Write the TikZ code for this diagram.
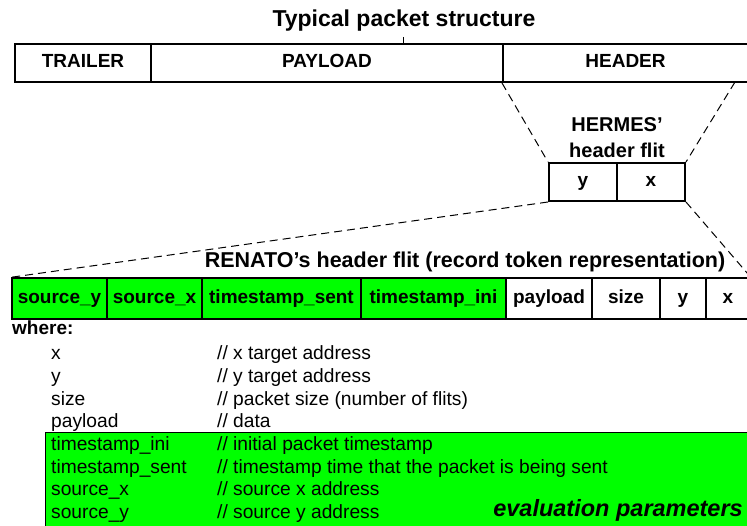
\documentclass[tikz,border=0pt]{standalone}
\usepackage{fontspec}
\setmainfont{Liberation Sans}
\usetikzlibrary{positioning,calc}
\definecolor{evalgreen}{RGB}{0,255,0}

\begin{document}
\begin{tikzpicture}[x=1pt,y=-1pt,
    cell/.style={draw, line width=1.5pt, inner sep=0pt, minimum height=41pt,
      text height=13.5pt, text depth=4pt, font=\fontsize{19}{20}\selectfont\bfseries},
    barcell/.style={cell, line width=2pt, minimum height=38pt},
    zoomline/.style={dash pattern=on 8pt off 5pt, line width=1pt},
    item/.style={anchor=base west, inner sep=0pt, font=\fontsize{19.2}{20}\selectfont}]
  \useasboundingbox (0,0) rectangle (747,526);

  % typical packet
  \node[font=\fontsize{23}{26}\selectfont\bfseries] (title) at (404,21) {Typical packet structure};
  \coordinate (tick) at (403,37);
  \node[barcell, minimum width=136pt] (trailer) at (83,63) {TRAILER};
  \node[barcell, minimum width=352pt] (payload) at (327,63) {PAYLOAD};
  \node[barcell, minimum width=245pt] (header) at (625.5,63) {HEADER};
  \draw (tick) -- (tick |- payload.north);

  % hermes flit
  \node[font=\fontsize{20}{26}\selectfont\bfseries, align=center] (hermes) at (617,138) {HERMES’\\header flit};
  \node[barcell, minimum width=68pt] (hy) at (583,182) {y};
  \node[barcell, minimum width=68pt] (hx) at (651,182) {x};

  % renato flit
  \node[font=\fontsize{21.5}{24}\selectfont\bfseries] (renato) at (465,262) {RENATO’s header flit (record token representation)};
  \foreach \a/\b/\lbl/\nm/\fc in {12/107/source\_y/sy/evalgreen, 107/202/source\_x/sx/evalgreen,
      202/361/timestamp\_sent/tss/evalgreen, 361/506/timestamp\_ini/tsi/evalgreen,
      506/592/payload/pl/white, 592/660/size/sz/white, 660/706/y/ry/white, 706/750/x/rx/white}
    \node[cell, fill=\fc, minimum width={(\b-\a)*1pt}] (\nm) at ({(\a+\b)/2},298.5) {\lbl};

  % zoom lines
  \coordinate (hdrcut) at (735,82);
  \draw[zoomline] (header.south west) -- (hy.north west);
  \draw[zoomline] (hdrcut) -- (hx.north east);
  \draw[zoomline] (hy.south west) -- (sy.north west);
  \draw[zoomline] (hx.south east) -- (rx.north east);

  % legend
  \draw[fill=evalgreen, line width=1pt] (45,432) rectangle (752,530);
  \node[item, font=\fontsize{19}{20}\selectfont\bfseries] (where) at (12,335) {where:};
  \foreach \nm/\cm [count=\i from 0] in {x/x target address, y/y target address,
      size/packet size (number of flits), payload/data, timestamp\_ini/initial packet timestamp,
      timestamp\_sent/timestamp time that the packet is being sent,
      source\_x/source x address, source\_y/source y address} {
    \node[item] (name\i) at (51,{360+22.6*\i}) {\nm};
    \node[item] (note\i) at (217,{360+22.6*\i}) {// \cm};
  }
  \node[anchor=east, inner sep=0pt, font=\fontsize{23.5}{26}\selectfont\bfseries\itshape] (evalp) at (743,510) {evaluation parameters};
\end{tikzpicture}
\end{document}
